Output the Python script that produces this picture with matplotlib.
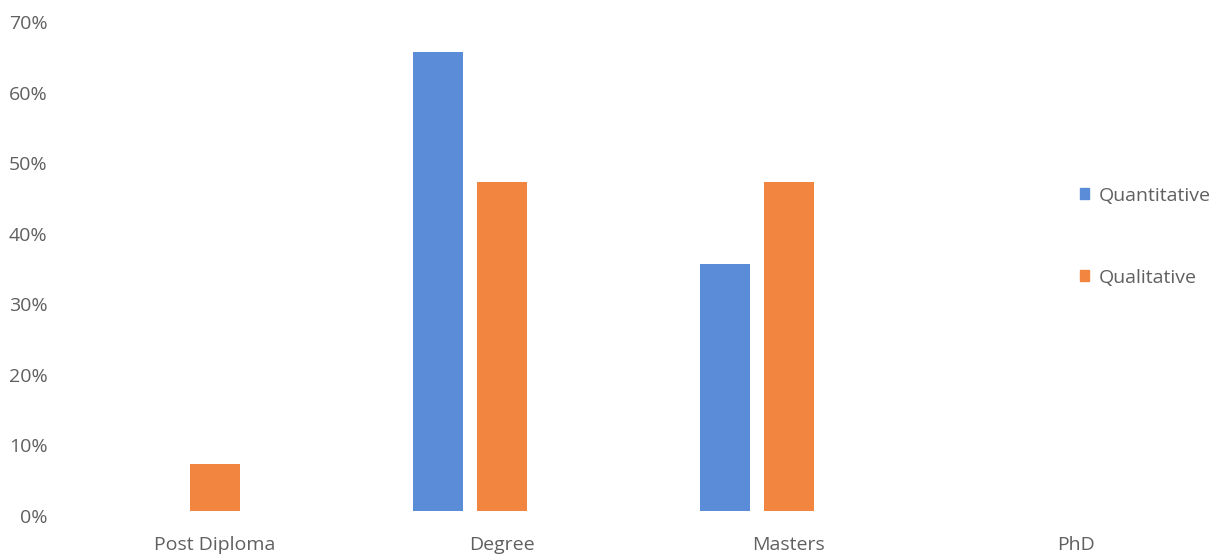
import matplotlib.pyplot as plt
import matplotlib.transforms as mtransforms
from matplotlib.patches import Patch
import numpy as np

plt.rcParams['font.family'] = ['Open Sans', 'DejaVu Sans']

categories = ['Post Diploma', 'Degree', 'Masters', 'PhD']
quantitative = [0, 65, 35, 0]
qualitative = [6.67, 46.67, 46.67, 0]
series_names = ['Quantitative', 'Qualitative']

blue = '#5B8CD8'
orange = '#F2853F'
text_grey = '#606060'

fig = plt.figure(figsize=(12.11, 5.58), dpi=100)
# axes placed in pixels: left 60, right 1100, bottom 511 from top, top 17 from top
W, H = 1211, 558
ax = fig.add_axes([60 / W, 47 / H, 1040 / W, 494 / H])

x = np.arange(len(categories))
width = 0.174
step = 0.223
ax.bar(x - step / 2, quantitative, width, color=blue)
ax.bar(x + step / 2, qualitative, width, color=orange)

# one category per 287 px, first group centred at px 183
ax.set_xlim((60 - 183) / 287, (1100 - 183) / 287)
ax.set_ylim(0, 70)

ax.set_yticks(np.arange(0, 71, 10))
ax.set_yticklabels([f'{v}%' for v in range(0, 71, 10)])
ax.set_xticks(x + 0.111)
ax.set_xticklabels(categories)

ax.tick_params(axis='both', length=0, labelsize=14, colors=text_grey)
ax.tick_params(axis='y', pad=9)
ax.tick_params(axis='x', pad=18)
shift = mtransforms.ScaledTranslation(0, -5 / 100, fig.dpi_scale_trans)
for lbl in ax.get_yticklabels():
    lbl.set_transform(lbl.get_transform() + shift)

for s in ax.spines.values():
    s.set_visible(False)

handles = [Patch(color=blue), Patch(color=orange)]
leg = fig.legend(handles, series_names, loc='upper left',
                 bbox_to_anchor=(1062 / W, 1 - 169 / H), frameon=False,
                 fontsize=14, handlelength=0.5, handleheight=0.5,
                 handletextpad=0.5, labelspacing=3.3)
for t in leg.get_texts():
    t.set_color(text_grey)

fig.savefig('out.png', dpi=100)
